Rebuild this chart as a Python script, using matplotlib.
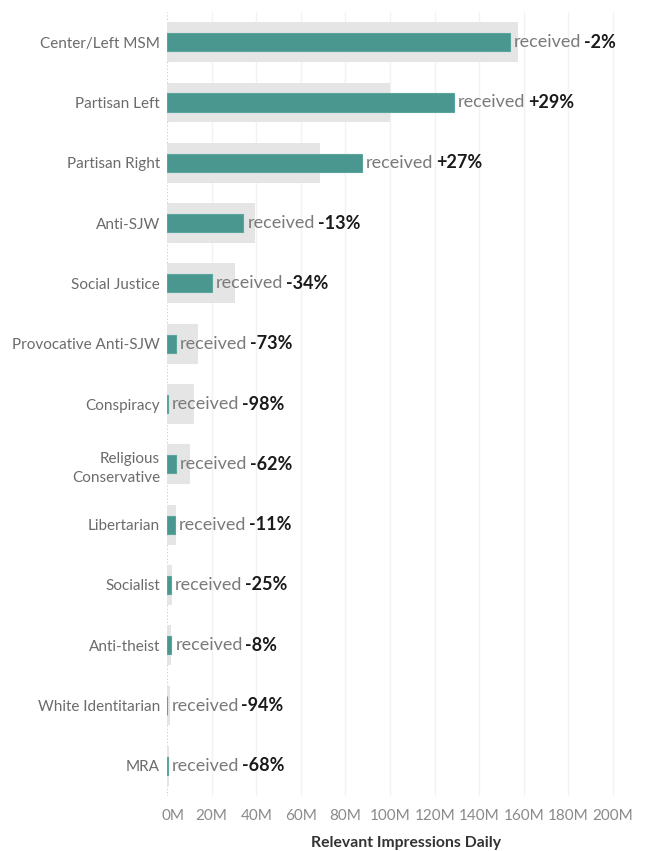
import numpy as np
import matplotlib
matplotlib.use("Agg")
from matplotlib import pyplot as plt
from matplotlib import transforms

# values in millions of impressions per day
categories = ["Center/Left MSM", "Partisan Left", "Partisan Right", "Anti-SJW",
              "Social Justice", "Provocative Anti-SJW", "Conspiracy",
              "Religious\nConservative", "Libertarian", "Socialist", "Anti-theist",
              "White Identitarian", "MRA"]
expected = [157.4, 100.0, 68.6, 39.4, 30.5, 14.0, 12.1, 10.4, 4.0, 2.3, 2.0, 1.3, 0.9]
received = [153.8, 128.7, 87.4, 34.2, 20.2, 3.9, 0.25, 4.0, 3.6, 1.75, 1.85, 0.08, 0.3]
pct_labels = ["-2%", "+29%", "+27%", "-13%", "-34%", "-73%", "-98%", "-62%",
              "-11%", "-25%", "-8%", "-94%", "-68%"]
xticks = [0, 20, 40, 60, 80, 100, 120, 140, 160, 180, 200]

plt.rcParams['font.family'] = ['Lato', 'DejaVu Sans']

fig = plt.figure(figsize=(6.57, 8.51), dpi=100)
ax = fig.add_axes([167/657, 55/851, (645-167)/657, (796-12)/851])

y = np.arange(len(categories))

# gridlines
for t in xticks[1:]:
    ax.axvline(t, color="#f2f2f2", lw=1, zorder=0)
ax.axvline(0, color="#c8c8c8", lw=0.8, ls=(0, (1, 2)), zorder=0)

ax.barh(y, expected, height=0.66, color="#e5e5e5", zorder=1)
ax.barh(y, received, height=0.3, color="#4a978f", edgecolor="#5aa59d",
        linewidth=0.8, zorder=2)

for i in range(len(categories)):
    t = ax.annotate("received", xy=(received[i], y[i]), xytext=(3, 0),
                    textcoords="offset points", ha="left", va="center",
                    fontsize=13, color="#7a7a7a", zorder=3)
    ax.annotate(pct_labels[i], xy=(1, 0.5), xycoords=t, xytext=(2, 0),
                textcoords="offset points", ha="left", va="center",
                fontsize=13, color="#1a1a1a", fontweight="bold", zorder=3)

ax.set_xlim(0, 214.3)
ax.set_ylim(len(categories) - 0.5, -0.5)
ax.set_yticks(y)
ax.set_yticklabels(categories, fontsize=11, color="#6b6b6b", linespacing=1.5)
ax.set_xticks(xticks)
ax.set_xticklabels([str(t) + "M" for t in xticks], fontsize=11, color="#8a8a8a")
ax.tick_params(axis="both", length=0)
ax.tick_params(axis="y", pad=5)
ax.tick_params(axis="x", pad=9)

# nudge the 0M label right like the original
lab0 = ax.get_xticklabels()[0]
lab0.set_transform(lab0.get_transform() + transforms.ScaledTranslation(0.06, 0, fig.dpi_scale_trans))

for s in ax.spines.values():
    s.set_visible(False)

ax.set_xlabel("Relevant Impressions Daily", fontsize=11.3, color="#333333",
              fontweight="bold", labelpad=10)

fig.savefig("out.png", dpi=100)
